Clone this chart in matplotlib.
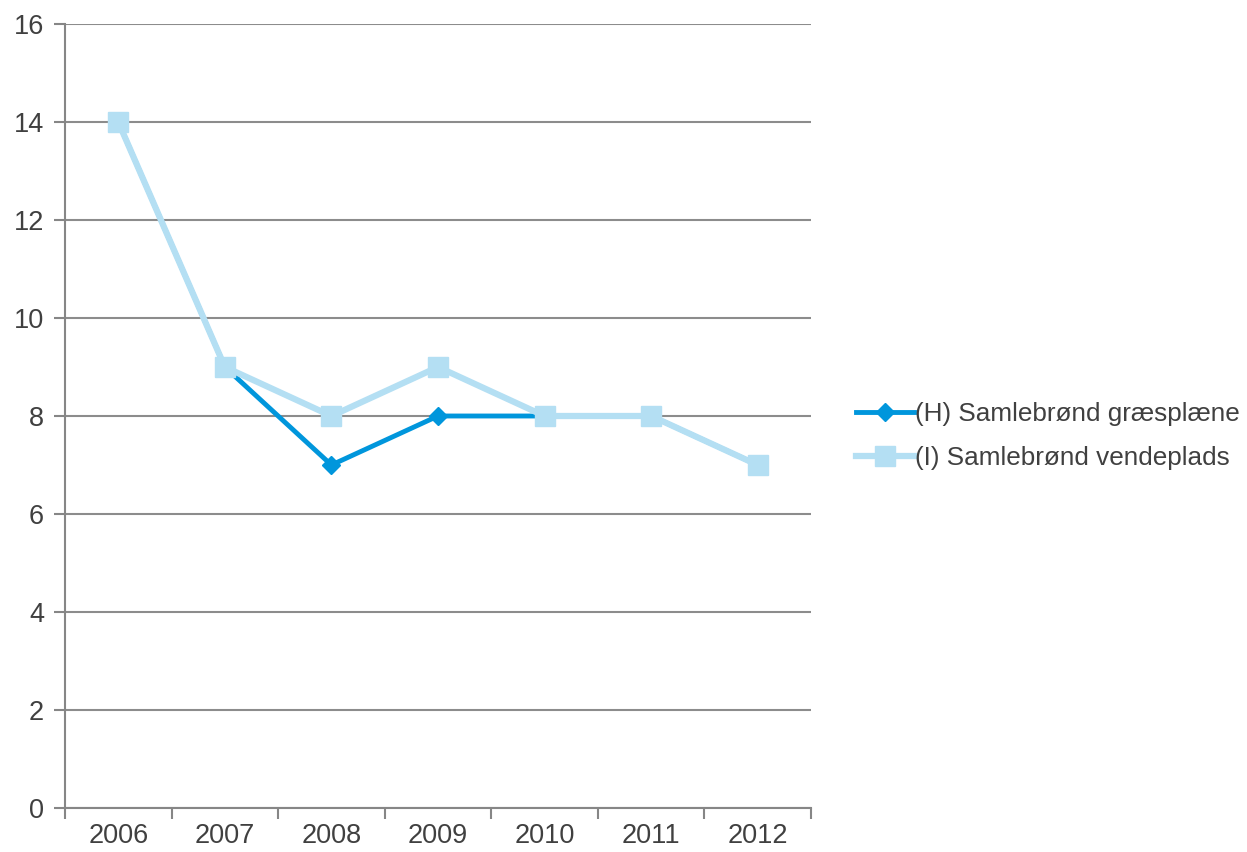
import numpy as np
import matplotlib.pyplot as plt

plt.rcParams['font.family'] = ['Liberation Sans', 'DejaVu Sans']

years = ['2006', '2007', '2008', '2009', '2010', '2011', '2012']
graesplaene = [14, 9, 7, 8, 8, 8, 7]
vendeplads = [14, 9, 8, 9, 8, 8, 7]

fig = plt.figure(figsize=(12.47, 8.52), dpi=100)
ax = fig.add_axes([65 / 1247, 1 - 808 / 852, (811 - 65) / 1247, (808 - 24) / 852])

x = np.arange(len(years))
ax.plot(x, graesplaene, color='#0096DC', lw=3.5, marker='D', ms=9,
        label='(H) Samlebrønd græsplæne', zorder=3)
ax.plot(x, vendeplads, color='#B4DFF3', lw=4.5, marker='s', ms=14,
        label='(I) Samlebrønd vendeplads', zorder=4)

ax.set_xlim(-0.5, len(years) - 0.5)
ax.set_ylim(0, 16)
ax.set_yticks(range(0, 17, 2))
ax.set_xticks(x)
ax.set_xticklabels(years)
ax.set_xticks(np.arange(-0.5, len(years), 1), minor=True)
ax.tick_params(axis='x', which='major', length=0, pad=11, labelsize=19.5, labelcolor='#404040')
ax.tick_params(axis='x', which='minor', length=8, width=1.5, color='#868686')
ax.tick_params(axis='y', length=8, width=1.5, color='#868686', pad=7,
               labelsize=19.5, labelcolor='#404040')

ax.grid(axis='y', color='#8C8C8C', lw=1.5)
ax.set_axisbelow(True)
for s in ['top', 'right']:
    ax.spines[s].set_visible(False)
for s in ['left', 'bottom']:
    ax.spines[s].set_color('#868686')
    ax.spines[s].set_linewidth(1.5)

fig.legend(loc='center left', bbox_to_anchor=(846 / 1247, 1 - 436 / 852),
           frameon=False, fontsize=18.8, handlelength=2.2, handletextpad=0.05,
           labelcolor='#404040', labelspacing=0.75, borderaxespad=0)

fig.savefig('out.png', dpi=100)
